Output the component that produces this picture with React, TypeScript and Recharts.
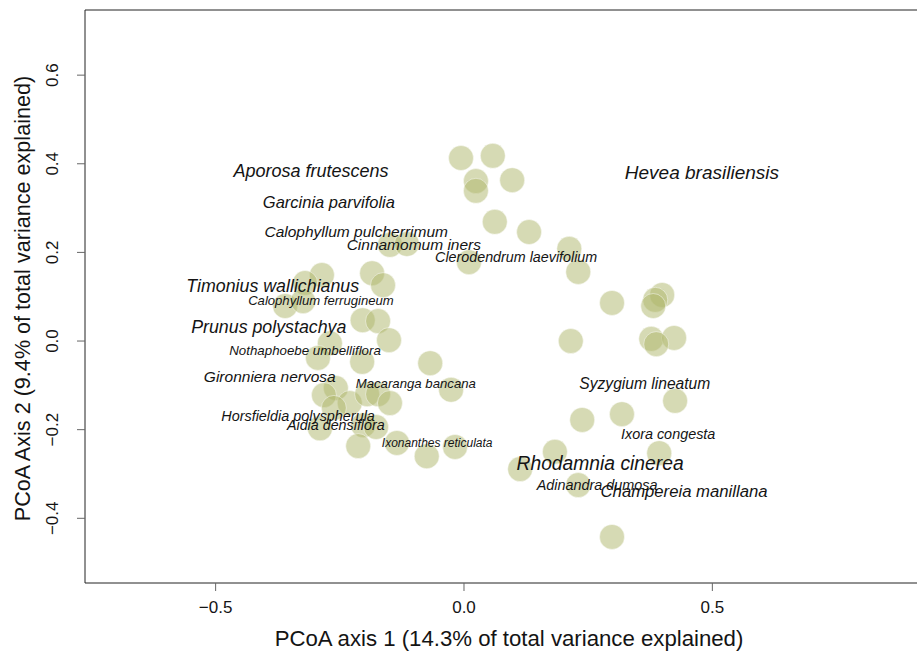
import React from 'react';
import { ScatterChart, Scatter, XAxis, YAxis, ReferenceLine, Label } from 'recharts';

// site scores (PCoA axis 1 / axis 2)
const siteX = [
  -0.006, 0.058, 0.024, 0.024, 0.097, 0.062, 0.131, 0.212, 0.230, 0.010,
  0.298, 0.399, 0.385, 0.381, 0.377, 0.423, 0.387, 0.215, 0.425, 0.318,
  0.238, 0.393, 0.183, 0.113, 0.230, 0.298,
  -0.149, -0.115, -0.286, -0.320, -0.360, -0.324, -0.185, -0.163, -0.204, -0.173,
  -0.151, -0.270, -0.294, -0.205, -0.068, -0.026, -0.258, -0.282, -0.230, -0.195,
  -0.173, -0.149, -0.262, -0.290, -0.203, -0.177, -0.213, -0.135, -0.075, -0.018,
];
const siteY = [
  0.413, 0.418, 0.361, 0.339, 0.363, 0.269, 0.246, 0.208, 0.156, 0.178,
  0.086, 0.104, 0.093, 0.079, 0.005, 0.007, -0.007, 0.0, -0.135, -0.165,
  -0.178, -0.253, -0.250, -0.289, -0.325, -0.442,
  0.217, 0.219, 0.149, 0.131, 0.079, 0.090, 0.153, 0.126, 0.047, 0.045,
  0.002, -0.005, -0.038, -0.047, -0.050, -0.110, -0.106, -0.122, -0.140, -0.120,
  -0.120, -0.140, -0.151, -0.197, -0.190, -0.194, -0.237, -0.230, -0.260, -0.239,
];

// species scores
const speciesNames = [
  'Aporosa frutescens', 'Garcinia parvifolia', 'Calophyllum pulcherrimum', 'Cinnamomum iners',
  'Clerodendrum laevifolium', 'Timonius wallichianus', 'Calophyllum ferrugineum', 'Prunus polystachya',
  'Nothaphoebe umbelliflora', 'Gironniera nervosa', 'Macaranga bancana', 'Horsfieldia polyspherula',
  'Aidia densiflora', 'Ixonanthes reticulata', 'Hevea brasiliensis', 'Syzygium lineatum',
  'Ixora congesta', 'Rhodamnia cinerea', 'Adinandra dumosa', 'Champereia manillana',
];
const speciesX = [
  -0.308, -0.272, -0.217, -0.101, 0.105, -0.385, -0.288, -0.393, -0.320, -0.391,
  -0.097, -0.334, -0.258, -0.054, 0.479, 0.364, 0.411, 0.274, 0.268, 0.443,
];
const speciesY = [
  0.384, 0.314, 0.248, 0.217, 0.190, 0.124, 0.093, 0.032, -0.020, -0.079,
  -0.095, -0.169, -0.190, -0.230, 0.381, -0.095, -0.210, -0.275, -0.325, -0.339,
];

const xTicks = [-0.5, 0, 0.5];
const yTicks = [-0.4, -0.2, 0, 0.2, 0.4, 0.6];

const X_DOMAIN: [number, number] = [-0.763, 0.912];
const Y_DOMAIN: [number, number] = [-0.546, 0.747];

// label font sizes (px), style only
const labelFont: Record<string, number> = {
  'Aporosa frutescens': 18,
  'Garcinia parvifolia': 16.5,
  'Calophyllum pulcherrimum': 15.5,
  'Cinnamomum iners': 15.5,
  'Clerodendrum laevifolium': 14.3,
  'Timonius wallichianus': 17.8,
  'Calophyllum ferrugineum': 13.1,
  'Prunus polystachya': 17.8,
  'Nothaphoebe umbelliflora': 13.3,
  'Gironniera nervosa': 15.5,
  'Macaranga bancana': 13.2,
  'Horsfieldia polyspherula': 14.4,
  'Aidia densiflora': 14.3,
  'Ixonanthes reticulata': 12,
  'Hevea brasiliensis': 19,
  'Syzygium lineatum': 15.6,
  'Ixora congesta': 14.4,
  'Rhodamnia cinerea': 19.3,
  'Adinandra dumosa': 14.4,
  'Champereia manillana': 16.7,
};

const FONT = '"Liberation Sans", Arial, Helvetica, sans-serif';
const INK = '#141414';

const sites = siteX.map((x, i) => ({ x, y: siteY[i] }));
const species = speciesNames.map((name, i) => ({ name, x: speciesX[i], y: speciesY[i] }));

const fmt = (v: number) => v.toFixed(1).replace('-', '\u2212');

const SiteDot = (props: any) => (
  <circle
    cx={props.cx}
    cy={props.cy}
    r={12.5}
    fill="#adb569"
    fillOpacity={0.5}
    stroke="#ffffff"
    strokeOpacity={0.6}
    strokeWidth={0.8}
  />
);

const SpeciesLabel = (props: any) => (
  <text
    x={props.cx}
    y={props.cy}
    dy="0.36em"
    textAnchor="middle"
    fontFamily={FONT}
    fontStyle="italic"
    fontSize={labelFont[props.payload.name] || 14}
    fill={INK}
  >
    {props.payload.name}
  </text>
);

const YTick = (props: any) => {
  const { y, payload } = props;
  return (
    <text
      transform={`translate(52, ${y}) rotate(-90)`}
      textAnchor="middle"
      dy="0.36em"
      fontFamily={FONT}
      fontSize={17}
      fill={INK}
    >
      {fmt(payload.value)}
    </text>
  );
};

const XTitle = (props: any) => {
  const vb = props.viewBox || { x: 85, y: 583, width: 832, height: 70 };
  return (
    <text
      x={vb.x + vb.width / 2 + 8}
      y={vb.y + vb.height - 7}
      textAnchor="middle"
      fontFamily={FONT}
      fontSize={22.2}
      fill={INK}
    >
      PCoA axis 1 (14.3% of total variance explained)
    </text>
  );
};

const YTitle = (props: any) => {
  const vb = props.viewBox || { x: 0, y: 10, width: 85, height: 573 };
  return (
    <text
      transform={`translate(22, ${vb.y + vb.height / 2 + 2}) rotate(-90)`}
      textAnchor="middle"
      dy="0.36em"
      fontFamily={FONT}
      fontSize={21.6}
      fill={INK}
    >
      PCoA Axis 2 (9.4% of total variance explained)
    </text>
  );
};

const App: React.FC = () => {
  return (
    <div style={{ position: 'absolute', left: 0, top: 0, width: 917, height: 653, background: '#fff' }}>
      <ScatterChart width={917} height={653} margin={{ top: 10, right: 0, bottom: 0, left: 0 }}>
        <XAxis
          type="number"
          dataKey="x"
          domain={X_DOMAIN}
          allowDataOverflow
          ticks={xTicks}
          tickFormatter={fmt}
          height={70}
          tickSize={8}
          tickMargin={10}
          axisLine={{ stroke: '#222' }}
          tickLine={{ stroke: '#666' }}
          tick={{ fontSize: 17, fill: INK, fontFamily: FONT }}
        >
          <Label content={XTitle} />
        </XAxis>
        <YAxis
          type="number"
          dataKey="y"
          domain={Y_DOMAIN}
          allowDataOverflow
          ticks={yTicks}
          width={85}
          tickSize={8}
          axisLine={{ stroke: '#222' }}
          tickLine={{ stroke: '#666' }}
          tick={<YTick />}
        >
          <Label content={YTitle} />
        </YAxis>
        <ReferenceLine y={Y_DOMAIN[1]} stroke="#222" />
        <Scatter data={sites} shape={SiteDot} isAnimationActive={false} />
        <Scatter data={species} shape={SpeciesLabel} isAnimationActive={false} />
      </ScatterChart>
    </div>
  );
};

export default App;
